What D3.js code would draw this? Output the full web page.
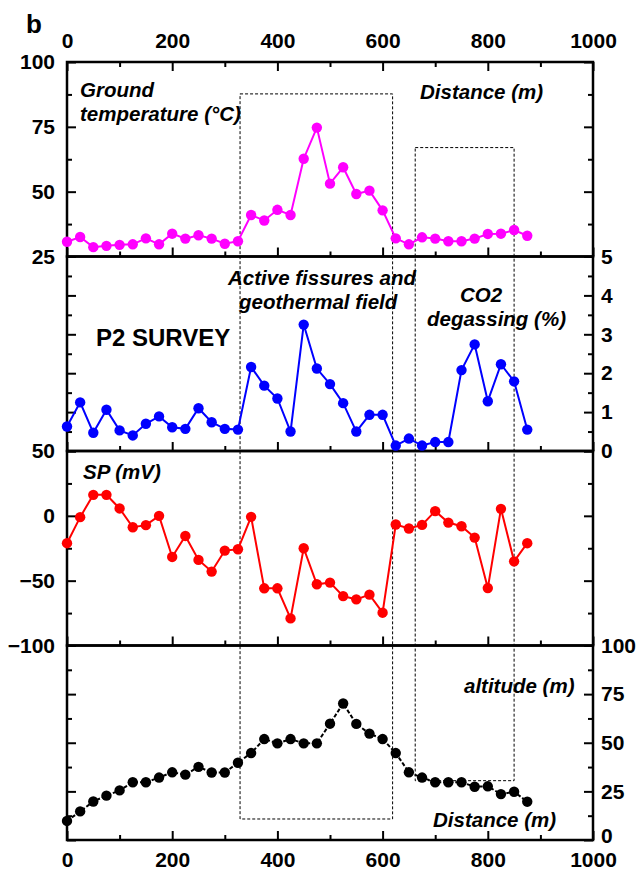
<!DOCTYPE html>
<html>
<head>
<meta charset="utf-8">
<script src="https://cdn.jsdelivr.net/npm/d3@7"></script>
<style>
  body { margin: 0; background: #fff; }
  svg text { font-family: "Liberation Sans", Arial, sans-serif; font-weight: bold; fill: #000; }
  .lbl { font-style: italic; font-size: 20.5px; }
  .tick text { font-size: 21px; }
</style>
</head>
<body>
<svg id="chart" width="637" height="881"></svg>
<script>
// ---- data (P2 survey) ----
const distance = [0, 25, 50, 75, 100, 125, 150, 175, 200, 225, 250, 275, 300, 325, 350, 375, 400, 425,
  450, 475, 500, 525, 550, 575, 600, 625, 650, 675, 700, 725, 750, 775, 800, 825, 850, 875];

const temperature = [30.7, 32.5, 28.6, 29.1, 29.5, 29.7, 32.0, 29.7, 33.8, 31.9, 33.2, 31.9, 29.9, 30.9,
  41.0, 38.9, 43.0, 41.0, 62.7, 74.7, 53.1, 59.4, 49.1, 50.4, 42.8, 32.0, 29.7, 32.4, 31.9, 30.9,
  30.9, 31.9, 33.7, 33.8, 35.2, 33.0];

const co2 = [0.63, 1.25, 0.47, 1.06, 0.53, 0.40, 0.70, 0.89, 0.61, 0.57, 1.10, 0.74, 0.57, 0.55,
  2.16, 1.68, 1.35, 0.50, 3.25, 2.12, 1.72, 1.23, 0.50, 0.93, 0.93, 0.14, 0.32, 0.14, 0.23, 0.23,
  2.08, 2.74, 1.28, 2.23, 1.79, 0.55];

const sp = [-21.1, -1.0, 16.2, 16.2, 5.7, -8.8, -7.2, 0, -31.7, -15.5, -34.0, -43.0, -26.8, -25.8,
  -0.8, -55.9, -55.9, -79.1, -25.0, -52.8, -51.5, -61.9, -64.4, -60.8, -74.7, -6.7, -9.8, -7.0,
  3.6, -5.2, -8.0, -16.8, -55.7, 5.4, -35.1, -21.1];

const altitude = [9.8, 14.7, 19.8, 22.8, 25.5, 29.7, 29.7, 32.1, 34.8, 33.6, 37.6, 34.7, 34.7, 39.7,
  44.7, 51.9, 49.7, 51.9, 49.7, 49.7, 59.8, 70.2, 59.7, 54.7, 51.9, 44.7, 34.8, 32.1, 29.7, 29.7,
  29.7, 27.4, 27.6, 23.6, 24.8, 19.7];

const xTicks = [0, 200, 400, 600, 800, 1000];
const xMinor = [100, 300, 500, 700, 900];
const tempTicks = [25, 50, 75, 100];
const co2Ticks = [0, 1, 2, 3, 4, 5];
const spTicks = [-100, -50, 0, 50];
const altTicks = [0, 25, 50, 75, 100];

// ---- layout ----
const svg = d3.select('#chart');
const mLeft = 67, mRight = 593, mTop = 62, mBottom = 840;
const ph = (mBottom - mTop) / 4;

const x = d3.scaleLinear().domain([0, 1000]).range([mLeft, mRight]);

const panels = [
  { values: temperature, domain: [25, 100], ticks: tempTicks, minor: [37.5, 62.5, 87.5], side: 'left', color: '#ff00ff', dash: null },
  { values: co2, domain: [0, 5], ticks: co2Ticks, minor: [0.5, 1.5, 2.5, 3.5, 4.5], side: 'right', color: '#0000ff', dash: null },
  { values: sp, domain: [-100, 50], ticks: spTicks, minor: [-75, -25, 25], side: 'left', color: '#ff0000', dash: null },
  { values: altitude, domain: [0, 100], ticks: altTicks, minor: [12.5, 37.5, 62.5, 87.5], side: 'right', color: '#000000', dash: '4,2' }
];
panels.forEach((p, i) => {
  p.y0 = mTop + i * ph;
  p.y = d3.scaleLinear().domain(p.domain).range([p.y0 + ph, p.y0]);
});

const noLabel = () => '';

// ticks for every panel, all pointing inward
panels.forEach((p, i) => {
  const g = svg.append('g');
  const mk = (axis, tx, ty) => {
    const a = g.append('g').attr('transform', `translate(${tx},${ty})`).call(axis);
    a.select('.domain').remove();
    a.selectAll('line').attr('stroke', '#000').attr('stroke-width', 2);
    a.selectAll('text').attr('fill', '#000');
    return a;
  };
  const lastRow = i === panels.length - 1;
  const labLeft = p.side === 'left' ? d3.format('d') : noLabel;
  const labRight = p.side === 'right' ? d3.format('d') : noLabel;
  mk(d3.axisLeft(p.y).tickValues(p.ticks).tickSize(-9).tickPadding(12).tickFormat(labLeft), mLeft, 0);
  mk(d3.axisLeft(p.y).tickValues(p.minor).tickSize(-5).tickFormat(noLabel), mLeft, 0);
  const r = mk(d3.axisRight(p.y).tickValues(p.ticks).tickSize(-9).tickPadding(8).tickFormat(labRight), mRight, 0);
  mk(d3.axisRight(p.y).tickValues(p.minor).tickSize(-5).tickFormat(noLabel), mRight, 0);
  // the bottom-right "0" sits a little higher in the original, clear of "1000"
  if (lastRow) r.selectAll('.tick').filter(d => d === 0).select('text').attr('y', -4);

  mk(d3.axisBottom(x).tickValues(xTicks).tickSize(-9).tickPadding(12).tickFormat(lastRow ? d3.format('d') : noLabel), 0, p.y0 + ph);
  mk(d3.axisBottom(x).tickValues(xMinor).tickSize(-5).tickFormat(noLabel), 0, p.y0 + ph);
  if (i === 0) {
    mk(d3.axisTop(x).tickValues(xTicks).tickSize(-9).tickPadding(14).tickFormat(d3.format('d')), 0, p.y0);
    mk(d3.axisTop(x).tickValues(xMinor).tickSize(-5).tickFormat(noLabel), 0, p.y0);
  }
});

// dashed boxes marking the zones
const tempY = panels[0].y, altY = panels[3].y;
const boxes = [
  { x0: 329, x1: 619, tTop: 87.7, aBottom: 10.8 },
  { x0: 662, x1: 850, tTop: 67, aBottom: 30.5 }
];
svg.selectAll('rect.zone')
  .data(boxes)
  .enter()
  .append('rect')
  .attr('class', 'zone')
  .attr('x', d => x(d.x0))
  .attr('y', d => tempY(d.tTop))
  .attr('width', d => x(d.x1) - x(d.x0))
  .attr('height', d => altY(d.aBottom) - tempY(d.tTop))
  .attr('fill', 'none')
  .attr('stroke', '#000')
  .attr('stroke-width', 1)
  .attr('stroke-dasharray', '3,2');

// panel frames
panels.forEach(p => {
  svg.append('rect')
    .attr('x', mLeft).attr('y', p.y0)
    .attr('width', mRight - mLeft).attr('height', ph)
    .attr('fill', 'none').attr('stroke', '#000').attr('stroke-width', 2.5);
});

// series
panels.forEach(p => {
  const pts = distance.map((d, k) => [d, p.values[k]]);
  const line = d3.line().x(d => x(d[0])).y(d => p.y(d[1]));
  svg.append('path')
    .datum(pts)
    .attr('d', line)
    .attr('fill', 'none')
    .attr('stroke', p.color)
    .attr('stroke-width', 2)
    .attr('stroke-dasharray', p.dash);
  svg.append('g').selectAll('circle')
    .data(pts)
    .enter()
    .append('circle')
    .attr('cx', d => x(d[0]))
    .attr('cy', d => p.y(d[1]))
    .attr('r', 5.2)
    .attr('fill', p.color);
});

// annotations
const notes = [
  { t: 'Ground', x: 80, y: 97 },
  { t: 'temperature (°C)', x: 80, y: 121 },
  { t: 'Distance (m)', x: 420, y: 99 },
  { t: 'Active fissures and', x: 228, y: 285 },
  { t: 'geothermal field', x: 239, y: 309 },
  { t: 'CO2', x: 460, y: 302 },
  { t: 'degassing (%)', x: 427, y: 326 },
  { t: 'SP (mV)', x: 83, y: 479 },
  { t: 'altitude (m)', x: 464, y: 693 },
  { t: 'Distance (m)', x: 433, y: 827 }
];
svg.selectAll('text.lbl')
  .data(notes)
  .enter()
  .append('text')
  .attr('class', 'lbl')
  .attr('x', d => d.x)
  .attr('y', d => d.y)
  .text(d => d.t);

svg.append('text').attr('x', 96).attr('y', 346).style('font-size', '24px').text('P2 SURVEY');
svg.append('text').attr('x', 26).attr('y', 33).style('font-size', '26px').text('b');
</script>
</body>
</html>
